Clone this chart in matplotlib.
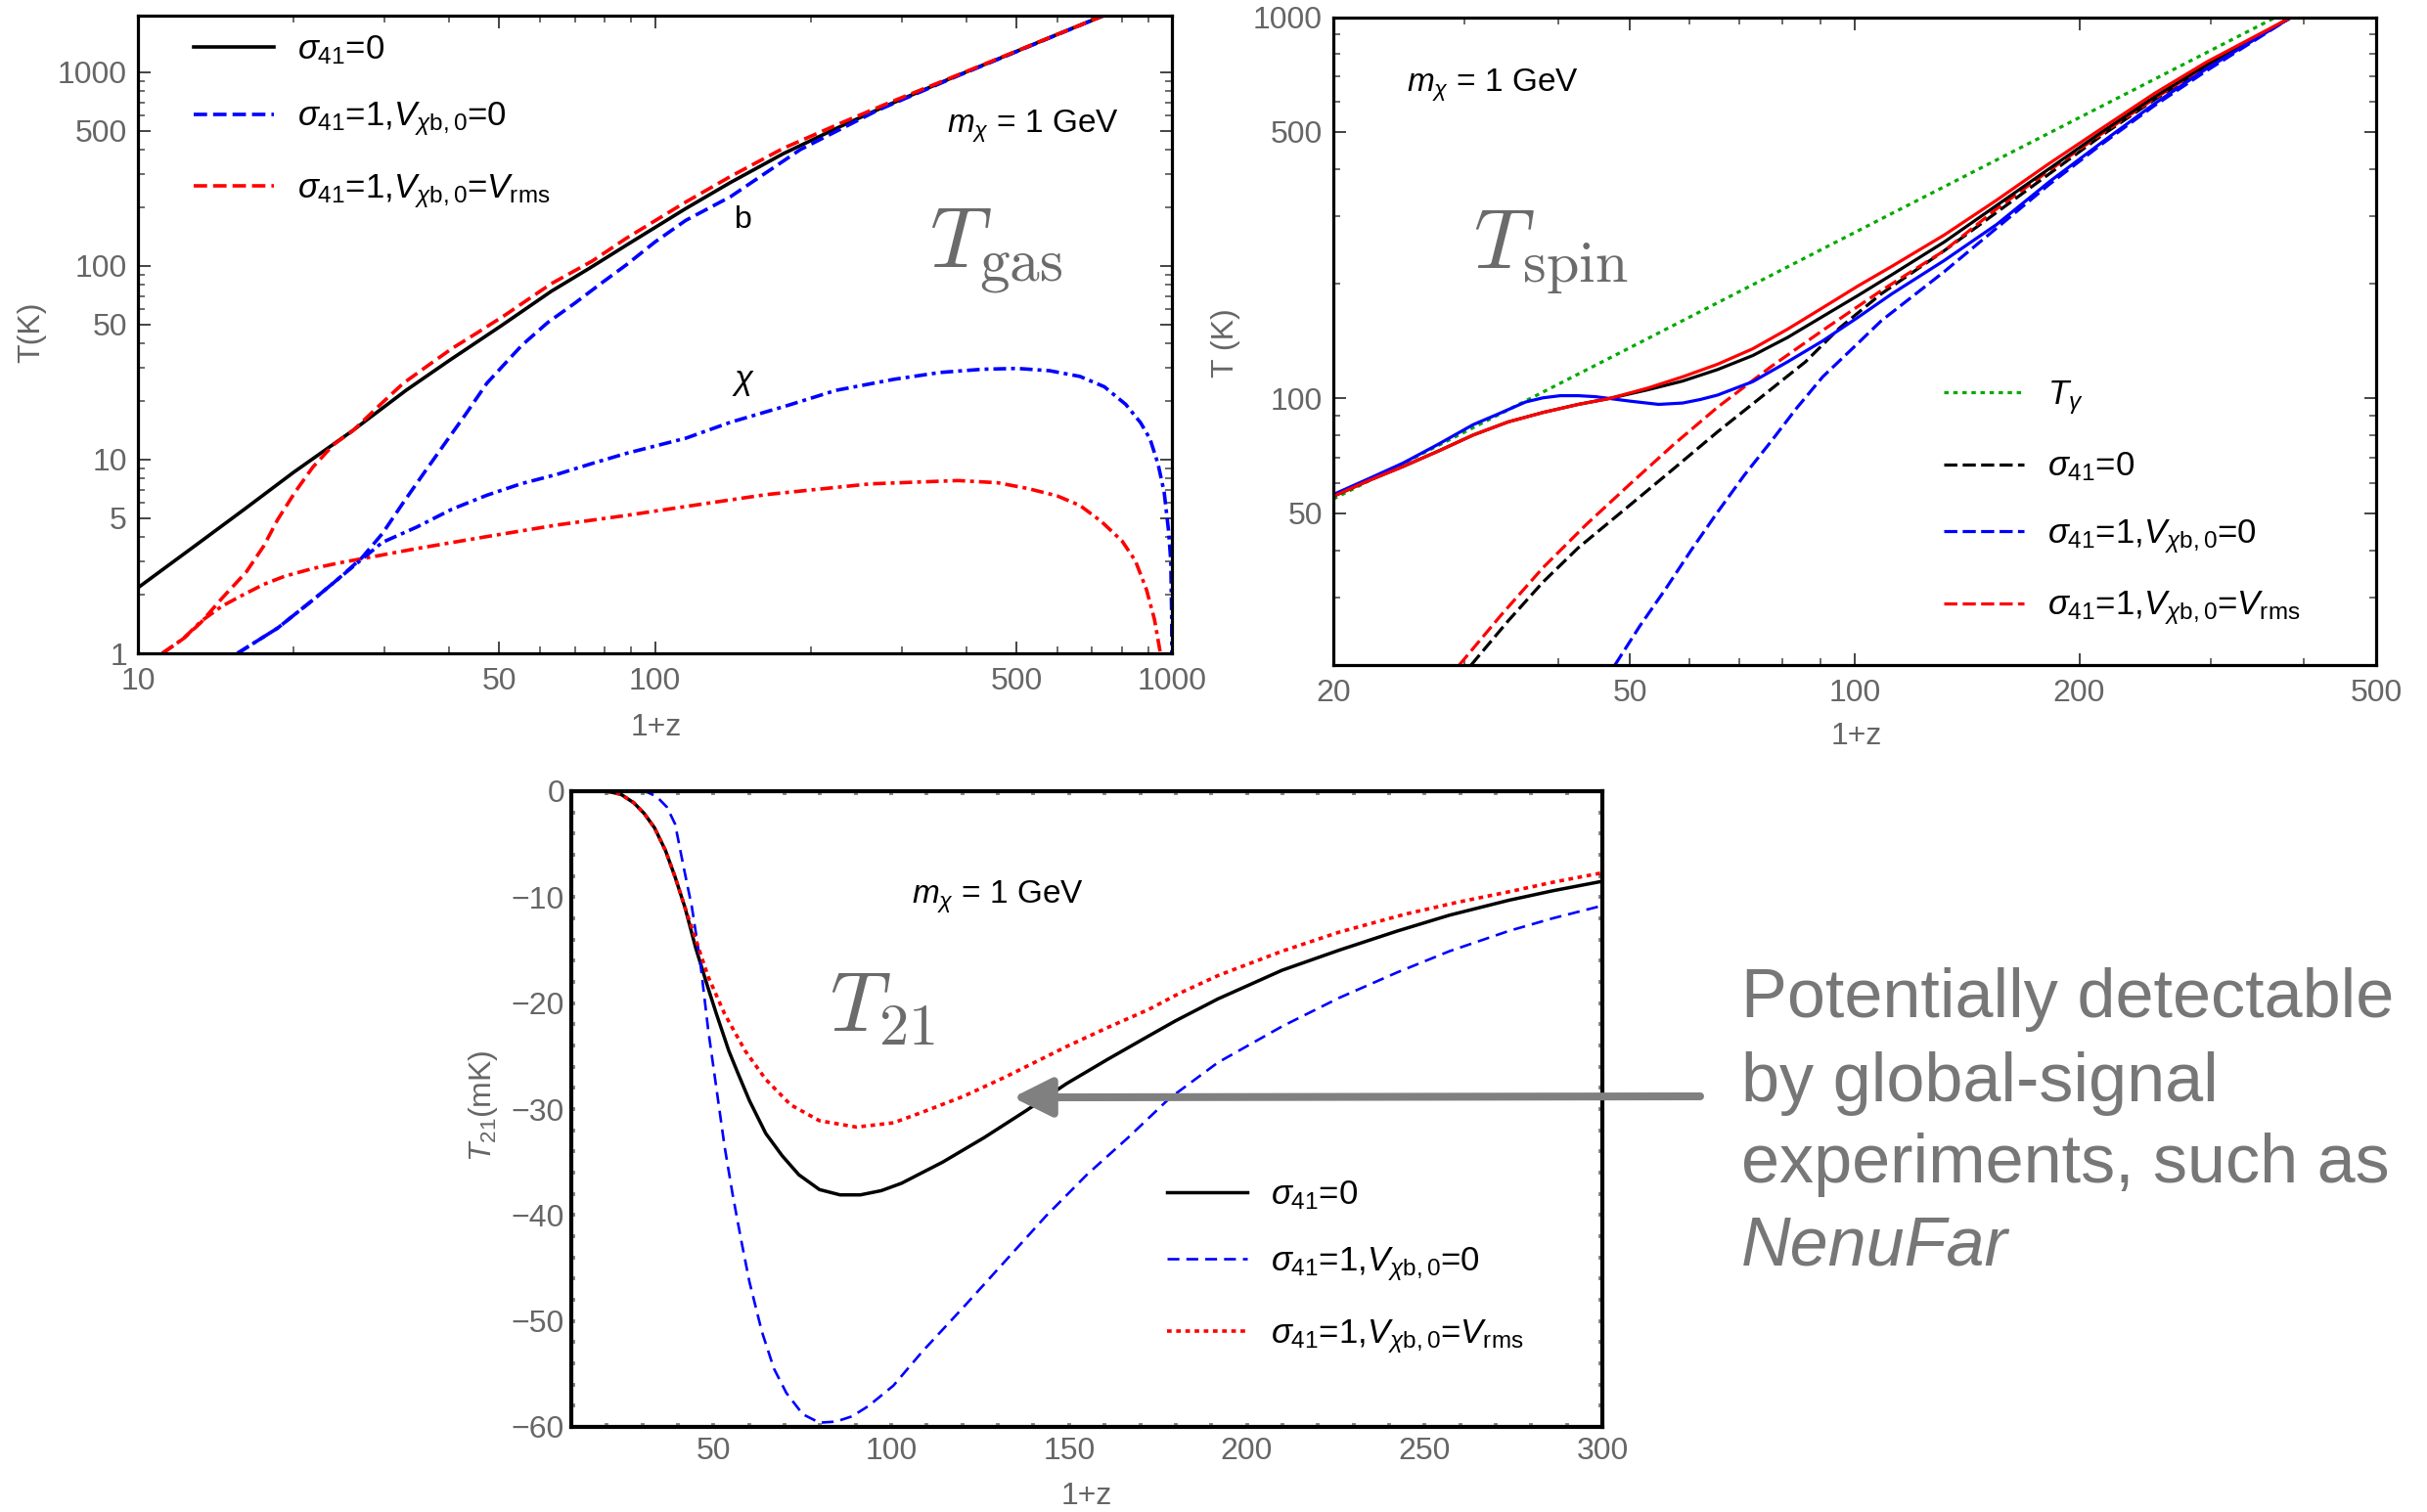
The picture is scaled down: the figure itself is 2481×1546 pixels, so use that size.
import numpy as np
import matplotlib
matplotlib.use("Agg")
import matplotlib.pyplot as plt
from matplotlib.ticker import LogLocator, NullFormatter, MultipleLocator

plt.rcParams['font.family'] = ['Liberation Sans', 'DejaVu Sans']
plt.rcParams['mathtext.fontset'] = 'custom'
plt.rcParams['mathtext.rm'] = 'Liberation Sans'
plt.rcParams['mathtext.it'] = 'Liberation Sans:italic'
plt.rcParams['mathtext.bf'] = 'Liberation Sans:bold'

W, H = 2481, 1546

# ---------------- T_gas panel (1+z, T in K) ----------------
tb_s0_x = [10, 13, 16, 20, 26, 33, 40, 50.4, 63, 75, 88, 100, 114.7, 140, 177, 230, 283, 380, 476, 600, 750]
tb_s0_y = [2.18, 3.65, 5.5, 8.6, 14.1, 22.8, 32.5, 49.1, 74, 98, 128, 158, 198, 270, 380, 530, 680, 950, 1215, 1570, 2000]

tb_v0_x = [15.58, 18.63, 21.77, 24.3, 27.07, 29.7, 32.6, 35.8, 39.3, 43.2, 47.3, 55.3, 62, 70, 79, 88.3, 100, 114.7, 140,
           191, 269, 380, 476, 600, 750]
tb_v0_y = [1.0, 1.35, 1.88, 2.4, 3.1, 4.15, 6.0, 8.58, 12.2, 17.4, 24.8, 39, 51, 64.3, 82, 102, 133, 172, 228,
           399, 635, 945, 1210, 1565, 2000]

tb_vr_x = [11.15, 12.24, 13.23, 14.53, 16.2, 17.51, 18.63, 20.15, 21.77, 23.9, 26.04, 29.7, 32.6, 36.5, 40.5, 45.5, 51.2,
           63, 75.6, 88, 114.7, 140, 177, 230, 283, 380, 476, 600, 750]
tb_vr_y = [1.0, 1.19, 1.44, 1.92, 2.63, 3.58, 4.9, 6.82, 9.12, 11.96, 14.1, 19.7, 24.8, 30.8, 37.5, 45.5, 55.6,
           81, 106, 139, 214, 290, 405, 550, 695, 955, 1220, 1570, 2000]

tchi_v0_x = [15.58, 18.63, 21.77, 24.3, 27.07, 29.7, 34.7, 40.5, 47.3, 55, 64.7, 76, 88.3, 114.7, 140, 180, 224, 290, 356,
             430, 502, 580, 664, 740, 814, 870, 907, 940, 966, 985, 995, 999, 1000]
tchi_v0_y = [1.0, 1.35, 1.88, 2.4, 3.05, 3.74, 4.5, 5.55, 6.55, 7.5, 8.4, 9.6, 10.8, 12.9, 15.6, 19, 22.8, 26, 28.2,
             29.3, 29.6, 28.8, 26.9, 23.8, 19.3, 15.5, 12.8, 9.5, 6.8, 4.3, 3.0, 1.5, 0.8]

tchi_vr_x = [11.15, 12.24, 13.23, 14.53, 15.95, 17.51, 19.22, 21.77, 24.66, 27.5, 34.7, 47.4, 64.7, 87.9, 114.7, 164,
             261, 386, 460, 526, 600, 664, 730, 801, 850, 893, 925, 950, 965]
tchi_vr_y = [1.0, 1.19, 1.46, 1.75, 2.0, 2.27, 2.5, 2.74, 2.94, 3.1, 3.48, 4.01, 4.6, 5.15, 5.73, 6.6,
             7.5, 7.8, 7.6, 7.1, 6.5, 5.8, 4.8, 3.8, 3.0, 2.13, 1.5, 1.0, 0.7]

# ---------------- T_spin panel ----------------
tgam_x = [20, 50, 100, 200, 367]
tgam_y = [54.5, 136, 272.5, 545, 1000]

sp_s0_x = [20, 22.3, 24.8, 27.7, 30.8, 34.3, 38.2, 42.6, 46.9, 52.8, 58.8, 65.5, 73, 81.3, 90.6, 100.9, 112.1, 131.8,
           155, 182.3, 214.3, 252, 296.1, 385]
sp_s0_y = [55.4, 60.9, 66.3, 72.9, 80.2, 86.8, 91.9, 96.5, 100, 105.4, 111.1, 119.1, 129.6, 144.6, 164.1, 186, 211, 257.2,
           320.9, 400.5, 499.7, 617.2, 749.2, 1000]

sp_vr_x = [20, 22.3, 24.8, 27.7, 30.8, 34.3, 38.2, 42.6, 46.9, 52.8, 58.8, 65.5, 73, 81.3, 90.6, 100.9, 112.1, 131.8,
           155, 182.3, 214.3, 252, 296.1, 385]
sp_vr_y = [55.4, 60.9, 66.3, 72.9, 80.2, 86.8, 91.9, 96.5, 100, 106.5, 114, 123, 135, 152, 173, 197, 222, 268.3,
           331.3, 413.3, 510.5, 630.1, 762.1, 1000]

sp_v0_x = [20, 22.3, 24.8, 27.7, 30.8, 33.2, 36.2, 38.2, 40.3, 42.6, 44.9, 46.9, 50.0, 54.6, 58.8, 62.1, 65.5, 73, 81.3,
           90.6, 100.9, 112.1, 131.8, 155, 182.3, 214.3, 252, 296.1, 385]
sp_v0_y = [56.0, 61.6, 67.7, 76.0, 85.4, 90.9, 97.9, 100.4, 101.7, 101.7, 101.1, 100, 98.4, 96.5, 97.3, 99.4, 102.1,
           110.7, 124.8, 141.6, 163, 188, 230, 286, 370, 469, 592, 732, 1000]

gs_s0_x = [30.6, 34.3, 38.2, 42.6, 50.0, 57, 65.5, 75, 85.9, 95.4, 108.6, 131.8, 155, 182.3, 214.3, 252, 296.1, 385]
gs_s0_y = [20, 26.1, 33.0, 40.6, 52.6, 65.1, 81.8, 101, 124.8, 153, 188.3, 244, 307.7, 388.1, 489.3, 606.7, 743, 1000]

gs_vr_x = [29.5, 33.6, 38.2, 43.7, 50.0, 57.3, 65.5, 77.1, 90.6, 108.6, 131.8, 155, 182.3, 214.3, 252, 296.1, 385]
gs_vr_y = [20, 27.1, 36.0, 46.8, 59.7, 76.0, 94.9, 120.9, 150.9, 192, 244, 314.4, 396.3, 494.5, 610.7, 746.1, 1000]

gs_v0_x = [47.7, 51.5, 55.8, 60.4, 65.5, 71.1, 77.1, 83.6, 90.6, 100, 108.6, 131.8, 155, 182.3, 214.3, 252, 296.1, 385]
gs_v0_y = [20, 25.3, 31.7, 40.1, 50.4, 62.9, 76.8, 94.4, 114, 137, 160, 215, 279.9, 364.2, 464.2, 585.4, 722.9, 1000]

# ---------------- T_21 panel (mK) ----------------
t21_s0_x = [20, 24, 27.6, 30.5, 33.4, 36.5, 39.2, 42, 45, 48.5, 50.8, 54.3, 56.6, 60.1, 64.7, 69.3, 74, 79.8, 85.6,
            91.3, 97.2, 102.9, 114.5, 126.1, 137.7, 149.3, 160.9, 172.4, 179.8, 191.9, 209.9, 226, 242.3, 257, 273.6,
            286, 300]
t21_s0_y = [0, -0.3, -1.1, -2.1, -3.45, -5.6, -8.1, -11.0, -14.8, -18.6, -21.0, -24.5, -26.4, -29.2, -32.3, -34.4,
            -36.2, -37.6, -38.1, -38.1, -37.7, -37.0, -35.0, -32.7, -30.2, -27.6, -25.3, -23.1, -21.7, -19.6, -16.9,
            -15.0, -13.2, -11.7, -10.3, -9.4, -8.5]

t21_v0_x = [30, 31.4, 34, 36.9, 39.2, 41.5, 43.9, 46.2, 48.5, 50.8, 53.1, 55.4, 57.8, 60.1, 63.6, 67.0, 70.5, 75.1,
            79.8, 84.4, 89.0, 93.7, 100.6, 108.7, 120.3, 131.9, 143.5, 155.0, 166.6, 178.2, 191.9, 209.9, 226, 242.3,
            257, 273.6, 286, 300]
t21_v0_y = [0, -0.1, -0.5, -1.5, -3.1, -7.0, -10.9, -15.9, -22.5, -28.0, -33.5, -38.1, -42.4, -46.3, -51.0, -54.5,
            -56.8, -58.8, -59.6, -59.5, -59.0, -58.0, -56.1, -52.9, -48.7, -44.4, -40.1, -36.2, -32.7, -29.0, -25.6,
            -22.2, -19.5, -17.1, -15.1, -13.2, -12.0, -10.8]

t21_vr_x = [20, 24, 27.6, 30.5, 33.4, 36.5, 39.2, 42, 45, 48.5, 53.1, 58.9, 64.7, 71.7, 79.8, 90.2, 100.6, 108.7,
            120.3, 131.9, 149.3, 160.9, 172.4, 180.9, 191.9, 209.9, 226, 244.6, 259, 273.6, 286, 300]
t21_vr_y = [0, -0.3, -1.1, -2.1, -3.45, -5.6, -8.1, -11.0, -14.0, -17.5, -21.0, -24.5, -27.2, -29.6, -31.1, -31.7,
            -31.3, -30.3, -28.8, -27.0, -24.1, -22.3, -20.6, -19.1, -17.4, -15.1, -13.3, -11.6, -10.5, -9.5, -8.6, -7.7]

lab_s0 = r'$\sigma_{41}$=0'
lab_v0 = r'$\sigma_{41}$=1,$V_{\chi{\rm b},0}$=0'
lab_vr = r'$\sigma_{41}$=1,$V_{\chi{\rm b},0}$=$V_{\rm rms}$'

GREY = '#666666'
BIG_GREY = '#6b6b6b'
TICK_FS = 23
LAB_FS = 23
LEG_FS = 25


def axbox(l, t, r, b):
    # pixel box (from top-left) -> figure fraction rect
    return [l / W, 1 - b / H, (r - l) / W, (b - t) / H]


def fpx(x, y):
    return x / W, 1 - y / H


def style_log(ax):
    for s in ax.spines.values():
        s.set_linewidth(2.3)
    ax.xaxis.set_minor_locator(LogLocator(base=10, subs=np.arange(2, 10)))
    ax.yaxis.set_minor_locator(LogLocator(base=10, subs=np.arange(2, 10)))
    ax.xaxis.set_minor_formatter(NullFormatter())
    ax.yaxis.set_minor_formatter(NullFormatter())
    ax.tick_params(which='both', direction='in', top=True, right=True, colors='#444444',
                   labelcolor=GREY, labelsize=TICK_FS)
    ax.tick_params(which='major', length=9, width=1.4)
    ax.tick_params(which='minor', length=5, width=1.1)
    ax.tick_params(axis='x', pad=10)
    ax.tick_params(axis='y', pad=8)


def add_legend(ax, handles, labels, anchor):
    ax.legend(handles, labels, loc='upper left', bbox_to_anchor=anchor, frameon=False,
              fontsize=LEG_FS, borderpad=0, borderaxespad=0, handlelength=2.36,
              handletextpad=0.7, labelspacing=1.0)


fig = plt.figure(figsize=(W / 100, H / 100), dpi=100)

# ======== T_gas ========
ax1 = fig.add_axes(axbox(141, 16, 1198, 668))
lw1 = 2.6
dash1 = (0, (3.8, 1.7))
dd1 = (0, (3.6, 1.4, 1.1, 1.4))
h_s0, = ax1.plot(tb_s0_x, tb_s0_y, color='black', lw=lw1)
ax1.plot(tchi_vr_x, tchi_vr_y, color='red', lw=lw1, ls=dd1)
ax1.plot(tchi_v0_x, tchi_v0_y, color='blue', lw=lw1, ls=dd1)
h_v0, = ax1.plot(tb_v0_x, tb_v0_y, color='blue', lw=lw1, ls=dash1)
h_vr, = ax1.plot(tb_vr_x, tb_vr_y, color='red', lw=lw1, ls=dash1)
ax1.set_xscale('log')
ax1.set_yscale('log')
ax1.set_xlim(10, 1000)
ax1.set_ylim(1, 1963)
style_log(ax1)
ax1.set_xticks([10, 50, 100, 500, 1000], ['10', '50', '100', '500', '1000'])
ax1.set_yticks([1, 5, 10, 50, 100, 500, 1000], ['1', '5', '10', '50', '100', '500', '1000'])
ax1.set_xlabel('1+z', fontsize=LAB_FS, color=GREY, va='center')
ax1.set_ylabel('T(K)', fontsize=LAB_FS, color=GREY, va='center')
ax1.xaxis.set_label_coords(0.501, -0.117)
ax1.yaxis.set_label_coords(-0.103, 0.503)
add_legend(ax1, [h_s0, h_v0, h_vr], [lab_s0, lab_v0, lab_vr], (0.054, 0.972))
fig.text(*fpx(968, 136), r'$m_\chi$ = 1 GeV', fontsize=24, va='baseline')
fig.text(*fpx(760, 233), 'b', fontsize=23, ha='center', va='baseline')
fig.text(*fpx(760, 398), r'$\chi$', fontsize=25, ha='center', va='baseline')
fig.text(*fpx(950, 274), r'$T_{\rm gas}$', fontsize=63, color=BIG_GREY, va='baseline',
         math_fontfamily='cm')

# ======== T_spin ========
ax2 = fig.add_axes(axbox(1363, 17.5, 2429, 680))
lw2 = 2.3
dash2 = (0, (4.2, 1.7))
h_g, = ax2.plot(tgam_x, tgam_y, color='#00aa00', lw=lw2, ls=(0, (1.4, 1.5)))
h2_s0, = ax2.plot(gs_s0_x, gs_s0_y, color='black', lw=lw2, ls=dash2)
h2_vr, = ax2.plot(gs_vr_x, gs_vr_y, color='red', lw=lw2, ls=dash2)
h2_v0, = ax2.plot(gs_v0_x, gs_v0_y, color='blue', lw=lw2, ls=dash2)
ax2.plot(sp_s0_x, sp_s0_y, color='black', lw=lw2)
ax2.plot(sp_v0_x, sp_v0_y, color='blue', lw=lw2)
ax2.plot(sp_vr_x, sp_vr_y, color='red', lw=lw2)
ax2.set_xscale('log')
ax2.set_yscale('log')
ax2.set_xlim(20, 500)
ax2.set_ylim(20, 1000)
style_log(ax2)
ax2.set_xticks([20, 50, 100, 200, 500], ['20', '50', '100', '200', '500'])
ax2.set_yticks([50, 100, 500, 1000], ['50', '100', '500', '1000'])
ax2.set_xlabel('1+z', fontsize=LAB_FS, color=GREY, va='center')
ax2.set_ylabel('T (K)', fontsize=LAB_FS, color=GREY, va='center')
ax2.xaxis.set_label_coords(0.502, -0.110)
ax2.yaxis.set_label_coords(-0.103, 0.497)
add_legend(ax2, [h_g, h2_s0, h2_v0, h2_vr], [r'$T_\gamma$', lab_s0, lab_v0, lab_vr], (0.585, 0.442))
fig.text(*fpx(1438, 94), r'$m_\chi$ = 1 GeV', fontsize=24, va='baseline')
fig.text(*fpx(1506, 274), r'$T_{\rm spin}$', fontsize=62, color=BIG_GREY, va='baseline',
         math_fontfamily='cm')

# ======== T_21 ========
ax3 = fig.add_axes(axbox(584, 809, 1638, 1459))
h3_s0, = ax3.plot(t21_s0_x, t21_s0_y, color='black', lw=2.5)
h3_v0, = ax3.plot(t21_v0_x, t21_v0_y, color='blue', lw=1.9, ls=(0, (4.6, 2.7)))
h3_vr, = ax3.plot(t21_vr_x, t21_vr_y, color='red', lw=2.6, ls=(0, (1.3, 1.3)))
ax3.set_xlim(10, 300)
ax3.set_ylim(-60, 0)
for s in ax3.spines.values():
    s.set_linewidth(3)
ax3.set_xticks([50, 100, 150, 200, 250, 300])
ax3.set_yticks([0, -10, -20, -30, -40, -50, -60])
ax3.xaxis.set_minor_locator(MultipleLocator(10))
ax3.yaxis.set_minor_locator(MultipleLocator(2))
ax3.tick_params(which='both', direction='in', top=True, right=True, colors='#888888',
                labelcolor=GREY, labelsize=TICK_FS, length=3, width=2.8)
ax3.tick_params(axis='x', pad=7)
ax3.tick_params(axis='y', pad=5)
ax3.set_xlabel('1+z', fontsize=LAB_FS, color=GREY, va='center')
ax3.set_ylabel(r'$T_{21}$(mK)', fontsize=LAB_FS, color=GREY, va='center')
ax3.xaxis.set_label_coords(0.5, -0.109)
ax3.yaxis.set_label_coords(-0.085, 0.505)
add_legend(ax3, [h3_s0, h3_v0, h3_vr], [lab_s0, lab_v0, lab_vr], (0.578, 0.391))
fig.text(*fpx(932, 924), r'$m_\chi$ = 1 GeV', fontsize=24, va='baseline')
fig.text(*fpx(848, 1054), r'$T_{21}$', fontsize=62, color=BIG_GREY, va='baseline',
         math_fontfamily='cm')

# arrow pointing at the T21 trough
ax3.annotate('', xy=(134.2, -28.9), xytext=fpx(1738, 1121), textcoords='figure fraction',
             arrowprops=dict(arrowstyle='-|>,head_length=0.6,head_width=0.3', color='#808080',
                             lw=5.8, mutation_scale=40, shrinkA=0, shrinkB=0))

note_lines = ['Potentially detectable', 'by global-signal', 'experiments, such as']
note_base = [1040, 1126, 1209]
for txt, yb in zip(note_lines, note_base):
    fig.text(*fpx(1780, yb), txt, fontsize=50.5, color='#777777', va='baseline')
fig.text(*fpx(1780, 1294), 'NenuFar', fontsize=50.5, color='#777777', va='baseline', style='italic')

fig.savefig('out.png', dpi=100)
